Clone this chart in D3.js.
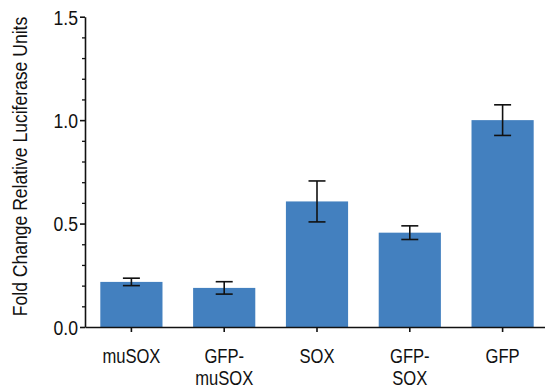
<!DOCTYPE html>
<html>
<head>
<meta charset="utf-8">
<script src="https://cdn.jsdelivr.net/npm/d3@7"></script>
<style>
  html, body { margin: 0; padding: 0; background: #fff; }
  svg { display: block; }
  text { font-family: "Liberation Sans", Arial, Helvetica, sans-serif; fill: #111; }
</style>
</head>
<body>
<svg id="chart" width="545" height="387"></svg>
<script>
const categories = ["muSOX", "GFP-muSOX", "SOX", "GFP-SOX", "GFP"];
const means = [0.218, 0.189, 0.607, 0.456, 1.0];
const errors = [0.018, 0.030, 0.099, 0.033, 0.074];
const yTicks = [0, 0.5, 1.0, 1.5];
const yMinorTicks = [0.1, 0.2, 0.3, 0.4, 0.6, 0.7, 0.8, 0.9, 1.1, 1.2, 1.3, 1.4];
const yLabel = "Fold Change Relative Luciferase Units";

(function () {
const data = categories.map((c, i) => ({ c, m: means[i], e: errors[i] }));

const svg = d3.select("#chart");
const mLeft = 85, mBottom = 327, mTop = 16.7;

const x = d3.scaleBand().domain(categories).range([mLeft, 549]).paddingInner(0.33).paddingOuter(0.165);
const y = d3.scaleLinear().domain([0, 1.5]).range([mBottom, mTop]);

// bars
svg.append("g").selectAll("rect").data(data).join("rect")
  .attr("x", d => x(d.c))
  .attr("y", d => y(d.m))
  .attr("width", x.bandwidth())
  .attr("height", d => y(0) - y(d.m))
  .attr("fill", "#4380bf");

// error bars
const capW = 17;
const eg = svg.append("g").attr("stroke", "#111").attr("stroke-width", 1.6).attr("fill", "none");
data.forEach(d => {
  const cx = x(d.c) + x.bandwidth() / 2;
  eg.append("line").attr("x1", cx).attr("x2", cx).attr("y1", y(d.m + d.e)).attr("y2", y(d.m - d.e));
  eg.append("line").attr("x1", cx - capW / 2).attr("x2", cx + capW / 2).attr("y1", y(d.m + d.e)).attr("y2", y(d.m + d.e));
  eg.append("line").attr("x1", cx - capW / 2).attr("x2", cx + capW / 2).attr("y1", y(d.m - d.e)).attr("y2", y(d.m - d.e));
});

// y axis minor ticks
const yMinor = svg.append("g").attr("transform", `translate(${mLeft},0)`)
  .call(d3.axisLeft(y).tickValues(yMinorTicks).tickSize(3).tickFormat(""));
yMinor.select(".domain").remove();
yMinor.selectAll("line").attr("stroke", "#111").attr("stroke-width", 1.3);

// y axis major
const yAxis = svg.append("g").attr("transform", `translate(${mLeft},0)`)
  .call(d3.axisLeft(y).tickValues(yTicks).tickSize(5).tickSizeOuter(0).tickPadding(2).tickFormat(d3.format(".1f")));
yAxis.select(".domain").attr("stroke", "#111").attr("stroke-width", 1.6);
yAxis.selectAll(".tick line").attr("stroke", "#111").attr("stroke-width", 1.6);
yAxis.selectAll(".tick text")
  .attr("x", 0)
  .attr("transform", "translate(-7,0) scale(0.86,1)")
  .style("font-size", "20.5px").attr("fill", "#111").attr("dy", "0.36em");

// x axis
const xAxis = svg.append("g").attr("transform", `translate(0,${mBottom})`)
  .call(d3.axisBottom(x).tickSize(5).tickSizeOuter(0).tickFormat(""));
xAxis.select(".domain").attr("stroke", "#111").attr("stroke-width", 1.6);
xAxis.selectAll(".tick line").attr("stroke", "#111").attr("stroke-width", 1.6);

// x labels (wrapped at hyphen)
xAxis.selectAll(".tick").each(function(d) {
  const k = d.indexOf("-");
  const parts = k >= 0 ? [d.slice(0, k + 1), d.slice(k + 1)] : [d];
  const t = d3.select(this).append("text")
    .attr("text-anchor", "middle")
    .attr("transform", "scale(0.79,1)")
    .attr("fill", "#111")
    .style("font-size", "21px");
  parts.forEach((p, i) => {
    t.append("tspan").attr("x", 0).attr("y", 36 + i * 22.5).text(p);
  });
});

// y label
svg.append("text")
  .attr("transform", `translate(27.3,166.5) rotate(-90) scale(0.9,1)`)
  .attr("text-anchor", "middle")
  .style("font-size", "19.5px")
  .text(yLabel);
})();
</script>
</body>
</html>
